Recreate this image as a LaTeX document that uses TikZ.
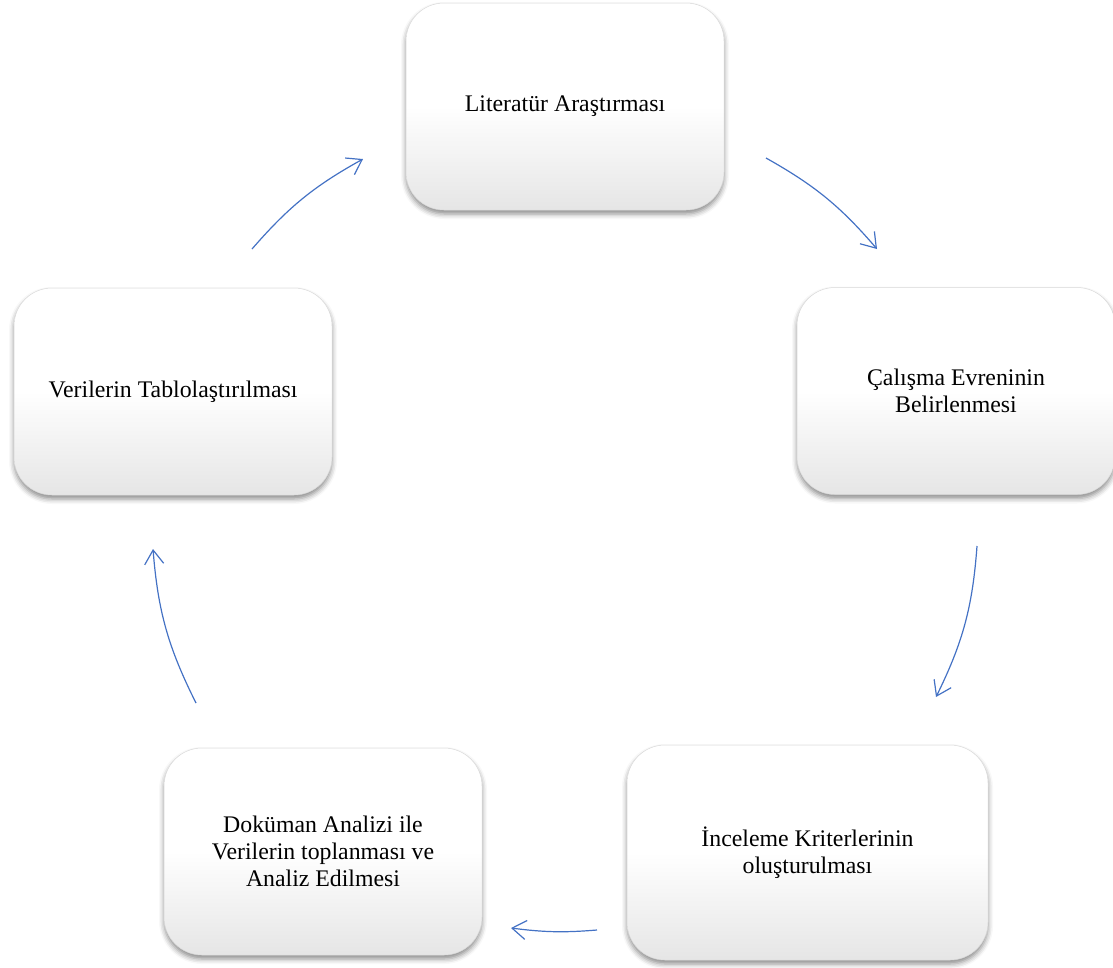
\documentclass[tikz,border=0pt]{standalone}
\usepackage{fontspec}
\setmainfont{Liberation Serif}
\usetikzlibrary{arrows.meta,shadows.blur}
\definecolor{arrowblue}{HTML}{4472C4}
\tikzset{
  stepbox/.style={rectangle, rounded corners=38pt, minimum width=318pt, minimum height=207pt,
    draw=gray!30, line width=0.5pt,
    top color=white, bottom color=gray!20, middle color=white,
    blur shadow={shadow xshift=0pt, shadow yshift=-4pt, shadow blur radius=5pt, shadow opacity=45},
    align=center, inner sep=0pt, font=\fontsize{23.8}{27}\selectfont},
  flow/.style={draw=arrowblue, line width=1.2pt, -{Straight Barb[length=14pt,width=19pt]}}
}
\begin{document}
\begin{tikzpicture}[x=1pt,y=1pt]
\useasboundingbox (0,0) rectangle (1113,-967);
\node[stepbox] (lit) at (565,-106.5) {Literatür Araştırması};
\node[stepbox] (evren) at (956,-391) {Çalışma Evreninin\\Belirlenmesi};
\node[stepbox, minimum width=361pt, minimum height=215pt] (krit) at (807.5,-852.5) {İnceleme Kriterlerinin\\oluşturulması};
\node[stepbox] (dok) at (323,-851.5) {Doküman Analizi ile\\Verilerin toplanması ve\\Analiz Edilmesi};
\node[stepbox] (tab) at (173,-391.5) {Verilerin Tablolaştırılması};
\coordinate (a1s) at (252,-249);
\coordinate (a1e) at (363,-159);
\coordinate (a2s) at (766,-158);
\coordinate (a2e) at (877,-249);
\coordinate (a3s) at (977,-546);
\coordinate (a3e) at (936,-697);
\coordinate (a4s) at (597,-930);
\coordinate (a4e) at (511,-928);
\coordinate (a5s) at (196,-703);
\coordinate (a5e) at (153,-549);
\draw[flow] (a1s) to[bend left=10] (a1e);
\draw[flow] (a2s) to[bend left=10] (a2e);
\draw[flow] (a3s) to[bend left=11] (a3e);
\draw[flow] (a4s) to[bend left=6] (a4e);
\draw[flow] (a5s) to[bend left=11] (a5e);
\end{tikzpicture}
\end{document}
